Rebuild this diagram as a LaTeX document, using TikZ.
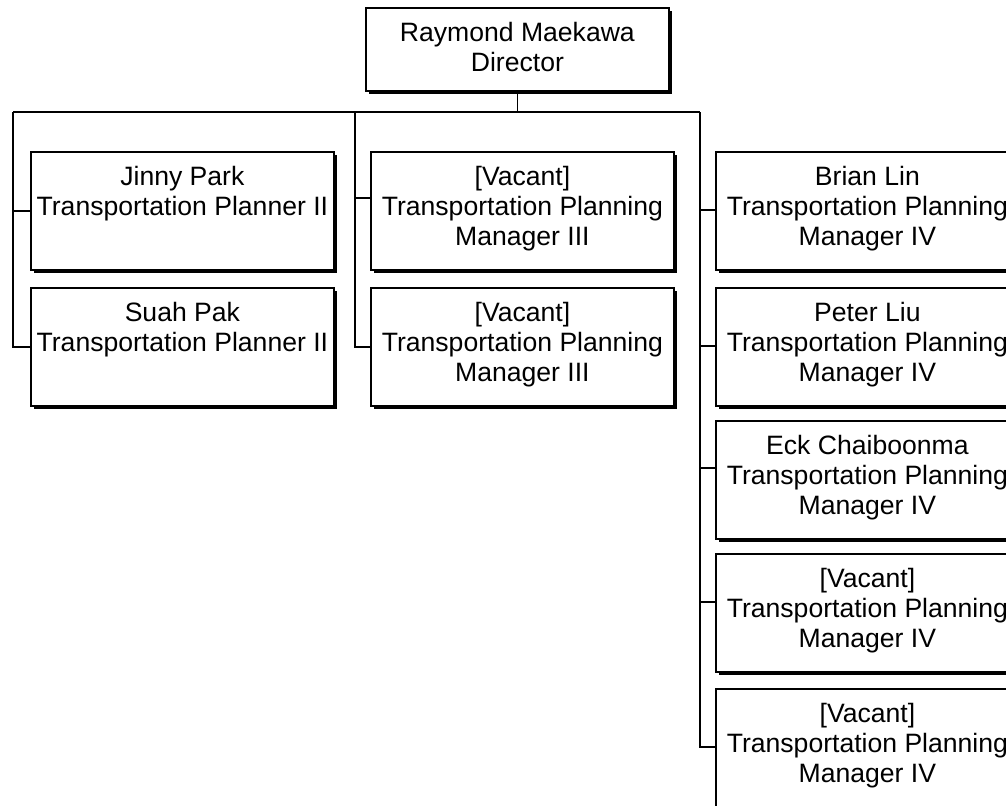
\documentclass[tikz,border=0pt]{standalone}
\usepackage{fontspec}
\setmainfont{Liberation Sans}
\usetikzlibrary{shadows}

\tikzset{
    post/.style={draw,rectangle,fill=white,line width=1.2pt,anchor=north west,
        minimum width=7.575cm,minimum height=2.95cm,
        drop shadow={shadow xshift=0.08cm,shadow yshift=-0.08cm,opacity=1,fill=black}},
    title/.style={anchor=north,align=center,yshift=-0.25cm,
        font=\fontsize{18.9}{21.4}\selectfont},
    link/.style={line width=1.2pt},
}

\begin{document}
\begin{tikzpicture}[x=0.025cm,y=-0.025cm]
        \useasboundingbox (0,0) rectangle (1006,805);
        %% Director
        \node[post,minimum height=2.075cm,
            label={[title]north:{Raymond Maekawa\\Director}}] (dir) at (365,7) {};
        %% Planners
        \node[post,label={[title]north:{Jinny Park\\Transportation Planner II}}] (jinny) at (30,151) {};
        \node[post,label={[title]north:{Suah Pak\\Transportation Planner II}}] (suah) at (30,287) {};
        %% Managers III
        \node[post,label={[title]north:{[Vacant]\\Transportation Planning\\Manager III}}] (vacA) at (370,151) {};
        \node[post,label={[title]north:{[Vacant]\\Transportation Planning\\Manager III}}] (vacB) at (370,287) {};
        %% Managers IV
        \node[post,label={[title]north:{Brian Lin\\Transportation Planning\\Manager IV}}] (brian) at (715,151) {};
        \node[post,label={[title]north:{Peter Liu\\Transportation Planning\\Manager IV}}] (peter) at (715,287) {};
        \node[post,label={[title]north:{Eck Chaiboonma\\Transportation Planning\\Manager IV}}] (eck) at (715,420) {};
        \node[post,label={[title]north:{[Vacant]\\Transportation Planning\\Manager IV}}] (vacC) at (715,553) {};
        \node[post,label={[title]north:{[Vacant]\\Transportation Planning\\Manager IV}}] (vacD) at (715,688) {};
        %% Lines
        \coordinate (colA) at (13,112);
        \coordinate (colB) at (355,112);
        \coordinate (colC) at (700,112);
        \draw[link] (dir.south) -- (dir.south |- colA);
        \draw[link] (colA) -- (colC);
        \draw[link] (colA) |- (jinny.west);
        \draw[link] (colA) |- (suah.west);
        \draw[link] (colB) |- (vacA.west |- 0,198);
        \draw[link] (colB) |- (vacB.west);
        \foreach \n/\y in {brian/210,peter/346,eck/468,vacC/602,vacD/747}
            \draw[link] (colC) |- (\n.west |- 0,\y);
\end{tikzpicture}
\end{document}
